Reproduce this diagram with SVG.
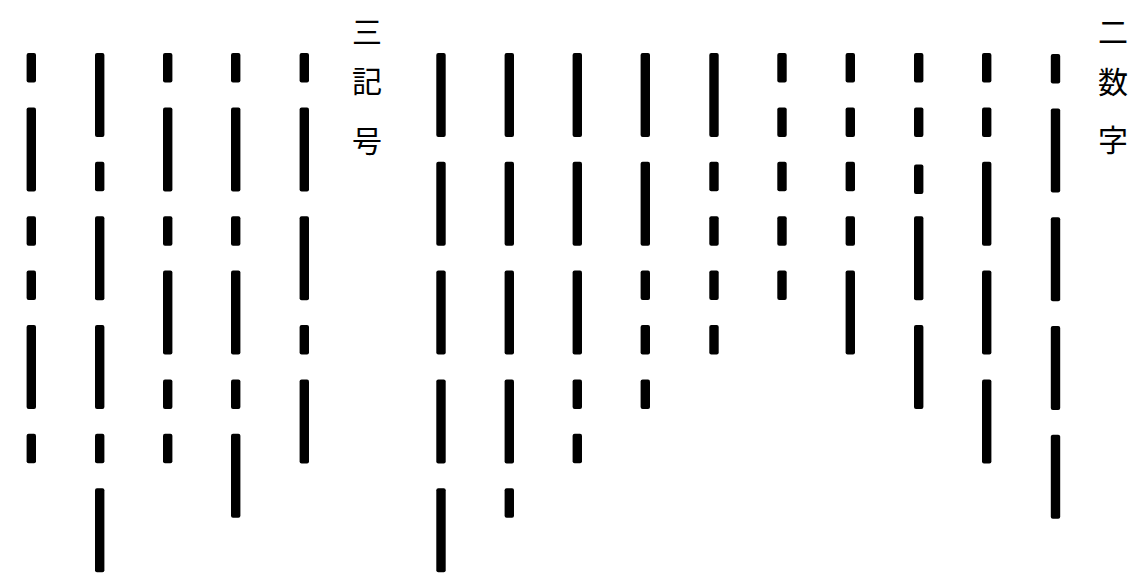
<svg xmlns="http://www.w3.org/2000/svg" width="1144" height="586" viewBox="0 0 1144 586">
<style>
.d{fill:#000;}
.t{font-family:"Noto Sans CJK JP","Noto Sans CJK SC",sans-serif;font-size:30px;fill:#000;text-anchor:middle;dominant-baseline:central;}
</style>
<defs>
<rect id="dot" x="-4.7" y="0" width="9.4" height="29.5" rx="2" class="d"/>
<rect id="dash" x="-4.7" y="0" width="9.4" height="84" rx="2" class="d"/>
</defs>
<rect width="1144" height="586" fill="#fff"/>
<g id="title-symbols">
<text class="t" x="367" y="30">三</text>
<text class="t" x="367" y="79">記</text>
<text class="t" x="367" y="139">号</text>
</g>
<g id="title-numbers">
<text class="t" x="1113" y="30">二</text>
<text class="t" x="1113" y="80">数</text>
<text class="t" x="1113" y="138">字</text>
</g>
<g id="sym1">
<use href="#dot" x="31.3" y="53"/><use href="#dash" x="31.3" y="107.4"/><use href="#dot" x="31.3" y="216.2"/><use href="#dot" x="31.3" y="270.6"/><use href="#dash" x="31.3" y="325"/><use href="#dot" x="31.3" y="433.8"/>
</g>
<g id="sym2">
<use href="#dash" x="99.7" y="53"/><use href="#dot" x="99.7" y="161.8"/><use href="#dash" x="99.7" y="216.2"/><use href="#dash" x="99.7" y="325"/><use href="#dot" x="99.7" y="433.8"/><use href="#dash" x="99.7" y="488.2"/>
</g>
<g id="sym3">
<use href="#dot" x="167.7" y="53"/><use href="#dash" x="167.7" y="107.4"/><use href="#dot" x="167.7" y="216.2"/><use href="#dash" x="167.7" y="270.6"/><use href="#dot" x="167.7" y="379.4"/><use href="#dot" x="167.7" y="433.8"/>
</g>
<g id="sym4">
<use href="#dot" x="235.7" y="53"/><use href="#dash" x="235.7" y="107.4"/><use href="#dot" x="235.7" y="216.2"/><use href="#dash" x="235.7" y="270.6"/><use href="#dot" x="235.7" y="379.4"/><use href="#dash" x="235.7" y="433.8"/>
</g>
<g id="sym5">
<use href="#dot" x="304.3" y="53"/><use href="#dash" x="304.3" y="107.4"/><use href="#dash" x="304.3" y="216.2"/><use href="#dot" x="304.3" y="325"/><use href="#dash" x="304.3" y="379.4"/>
</g>
<g id="num0">
<use href="#dash" x="441" y="53"/><use href="#dash" x="441" y="161.8"/><use href="#dash" x="441" y="270.6"/><use href="#dash" x="441" y="379.4"/><use href="#dash" x="441" y="488.2"/>
</g>
<g id="num9">
<use href="#dash" x="509.3" y="53"/><use href="#dash" x="509.3" y="161.8"/><use href="#dash" x="509.3" y="270.6"/><use href="#dash" x="509.3" y="379.4"/><use href="#dot" x="509.3" y="488.2"/>
</g>
<g id="num8">
<use href="#dash" x="577.3" y="53"/><use href="#dash" x="577.3" y="161.8"/><use href="#dash" x="577.3" y="270.6"/><use href="#dot" x="577.3" y="379.4"/><use href="#dot" x="577.3" y="433.8"/>
</g>
<g id="num7">
<use href="#dash" x="645.3" y="53"/><use href="#dash" x="645.3" y="161.8"/><use href="#dot" x="645.3" y="270.6"/><use href="#dot" x="645.3" y="325"/><use href="#dot" x="645.3" y="379.4"/>
</g>
<g id="num6">
<use href="#dash" x="714" y="53"/><use href="#dot" x="714" y="161.8"/><use href="#dot" x="714" y="216.2"/><use href="#dot" x="714" y="270.6"/><use href="#dot" x="714" y="325"/>
</g>
<g id="num5">
<use href="#dot" x="782" y="53"/><use href="#dot" x="782" y="107.4"/><use href="#dot" x="782" y="161.8"/><use href="#dot" x="782" y="216.2"/><use href="#dot" x="782" y="270.6"/>
</g>
<g id="num4">
<use href="#dot" x="850.3" y="53"/><use href="#dot" x="850.3" y="107.4"/><use href="#dot" x="850.3" y="161.8"/><use href="#dot" x="850.3" y="216.2"/><use href="#dash" x="850.3" y="270.6"/>
</g>
<g id="num3">
<use href="#dot" x="918.7" y="53"/><use href="#dot" x="918.7" y="107.4"/><use href="#dot" x="918.7" y="164.5"/><use href="#dash" x="918.7" y="216.2"/><use href="#dash" x="918.7" y="325"/>
</g>
<g id="num2">
<use href="#dot" x="986.7" y="53"/><use href="#dot" x="986.7" y="107.4"/><use href="#dash" x="986.7" y="161.8"/><use href="#dash" x="986.7" y="270.6"/><use href="#dash" x="986.7" y="379.4"/>
</g>
<g id="num1">
<use href="#dot" x="1055.5" y="54"/><use href="#dash" x="1055.5" y="108.4"/><use href="#dash" x="1055.5" y="217.2"/><use href="#dash" x="1055.5" y="326"/><use href="#dash" x="1055.5" y="434.8"/>
</g>
<g id="connectors"/>
</svg>
